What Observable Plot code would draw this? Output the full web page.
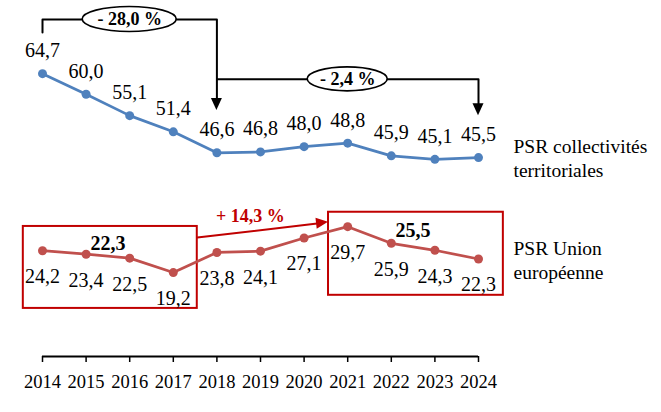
<!DOCTYPE html>
<html><head><meta charset="utf-8">
<script src="https://cdn.jsdelivr.net/npm/d3@7"></script>
<script src="https://cdn.jsdelivr.net/npm/@observablehq/plot@0.6"></script>
<style>
body{margin:0;background:#fff}
#chart svg, #chart svg text { font-family: "Liberation Serif", "DejaVu Serif", "Times New Roman", serif !important; }
</style>
</head><body><div id="chart"></div>
<script>
// ---- data ----
const years = [2014, 2015, 2016, 2017, 2018, 2019, 2020, 2021, 2022, 2023, 2024];
const collectivites = [64.7, 60.0, 55.1, 51.4, 46.6, 46.8, 48.0, 48.8, 45.9, 45.1, 45.5];
const unionEuropeenne = [24.2, 23.4, 22.5, 19.2, 23.8, 24.1, 27.1, 29.7, 25.9, 24.3, 22.3];
const seriesNames = ["PSR collectivités\nterritoriales", "PSR Union\neuropéenne"];
const changeLabels = ["- 28,0 %", "- 2,4 %", "+ 14,3 %"];
const averageLabels = ["22,3", "25,5"];
const periods = [[2014, 2017], [2021, 2024]];

// ---- derived tables ----
const fmt = v => v.toFixed(1).replace(".", ",");
const blue = years.map((year, i) => ({year, value: collectivites[i]}));
const red = years.map((year, i) => ({year, value: unionEuropeenne[i]}));
const BLUE = "#4F81BD", RED = "#C0504D", DARKRED = "#C00000";
const FONT = "'Liberation Serif', 'DejaVu Serif', serif";

// annotation geometry (data units)
const bracketA = [{x: 2014, y: 74.1}, {x: 2014, y: 77.1}, {x: 2018, y: 77.1}, {x: 2018, y: 58.5}];
const bracketB = [{x: 2018, y: 63.4}, {x: 2024, y: 63.4}, {x: 2024, y: 57.3}];
const ellipses = [
  {x: 2016, y: 77.1, rx: 47, ry: 12.5, text: changeLabels[0]},
  {x: 2021, y: 63.4, rx: 40, ry: 12, text: changeLabels[1]}
];
const redArrow = [{x: 2017.55, y: 27.2}, {x: 2020.3, y: 30.4}];
const arrowHeads = [
  {from: [2018, 77.1], to: [2018, 56.3], fill: "black"},
  {from: [2024, 63.4], to: [2024, 55.1], fill: "black"},
  {from: [2017.55, 27.2], to: [2020.56, 30.7], fill: DARKRED}
];
const boxes = [
  {x1: 2013.56, x2: 2017.55, y1: 11.0, y2: 29.75},
  {x1: 2020.56, x2: 2024.57, y1: 14.0, y2: 33.0}
];
const averages = [
  {x: (periods[0][0] + periods[0][1]) / 2, y: 25.9, text: averageLabels[0]},
  {x: (periods[1][0] + periods[1][1]) / 2, y: 28.8, text: averageLabels[1]}
];

function drawEllipses(index, {x, y}) {
  const g = d3.create("svg:g");
  for (const e of ellipses) {
    g.append("ellipse").attr("cx", x(e.x)).attr("cy", y(e.y)).attr("rx", e.rx).attr("ry", e.ry)
      .attr("fill", "white").attr("stroke", "black").attr("stroke-width", 1.6);
  }
  return g.node();
}
function drawHeads(index, {x, y}) {
  const g = d3.create("svg:g");
  for (const h of arrowHeads) {
    const x0 = x(h.from[0]), y0 = y(h.from[1]), x1 = x(h.to[0]), y1 = y(h.to[1]);
    const len = Math.hypot(x1 - x0, y1 - y0), ux = (x1 - x0) / len, uy = (y1 - y0) / len;
    const L = 12, W = 5.5, bx = x1 - ux * L, by = y1 - uy * L;
    g.append("path").attr("d", `M${x1},${y1}L${bx - uy * W},${by + ux * W}L${bx + uy * W},${by - ux * W}Z`).attr("fill", h.fill);
  }
  return g.node();
}

const chart = Plot.plot({
  width: 661, height: 412,
  marginLeft: 42, marginRight: 183, marginTop: 50, marginBottom: 56,
  x: {domain: [2014, 2024], label: null},
  y: {domain: [0, 70], axis: null},
  style: {fontFamily: FONT, fontSize: "18px", color: "black", background: "white", overflow: "visible"},
  marks: [
    Plot.rect(boxes, {x1: "x1", x2: "x2", y1: "y1", y2: "y2", fill: "none", stroke: DARKRED, strokeWidth: 2}),
    Plot.line(bracketA, {x: "x", y: "y", stroke: "black", strokeWidth: 2}),
    Plot.line(bracketB, {x: "x", y: "y", stroke: "black", strokeWidth: 2}),
    drawEllipses,
    Plot.text(ellipses, {x: "x", y: "y", text: "text", fontWeight: "bold", fontSize: 18}),
    Plot.line(redArrow, {x: "x", y: "y", stroke: DARKRED, strokeWidth: 2}),
    drawHeads,
    Plot.text([redArrow[0]], {x: 2018.77, y: 32.0, text: () => changeLabels[2], fill: DARKRED, fontWeight: "bold", fontSize: 18}),
    Plot.line(blue, {x: "year", y: "value", stroke: BLUE, strokeWidth: 2.75}),
    Plot.dot(blue, {x: "year", y: "value", fill: BLUE, r: 4.5}),
    Plot.line(red, {x: "year", y: "value", stroke: RED, strokeWidth: 2.75}),
    Plot.dot(red, {x: "year", y: "value", fill: RED, r: 4.5}),
    Plot.text(blue, {x: "year", y: "value", text: d => fmt(d.value), dy: -23, fontSize: 20}),
    Plot.text(red, {x: "year", y: "value", text: d => fmt(d.value), dy: 26, fontSize: 20}),
    Plot.text(averages, {x: "x", y: "y", text: "text", fontWeight: "bold", fontSize: 20}),
    Plot.text([blue[blue.length - 1]], {x: "year", y: "value", text: () => seriesNames[0], dx: 35, textAnchor: "start", lineAnchor: "middle", lineHeight: 1.22, fontSize: 19.5}),
    Plot.text([red[red.length - 1]], {x: "year", y: "value", text: () => seriesNames[1], dx: 35, textAnchor: "start", lineAnchor: "middle", lineHeight: 1.22, fontSize: 19.5}),
    Plot.ruleY([0], {stroke: "black", strokeWidth: 2}),
    Plot.axisX(years, {tickSize: 6, tickPadding: 12, tickFormat: d => String(d), strokeWidth: 1.5, fontSize: 18.5})
  ]
});
document.getElementById("chart").appendChild(chart);
</script>
</body></html>
